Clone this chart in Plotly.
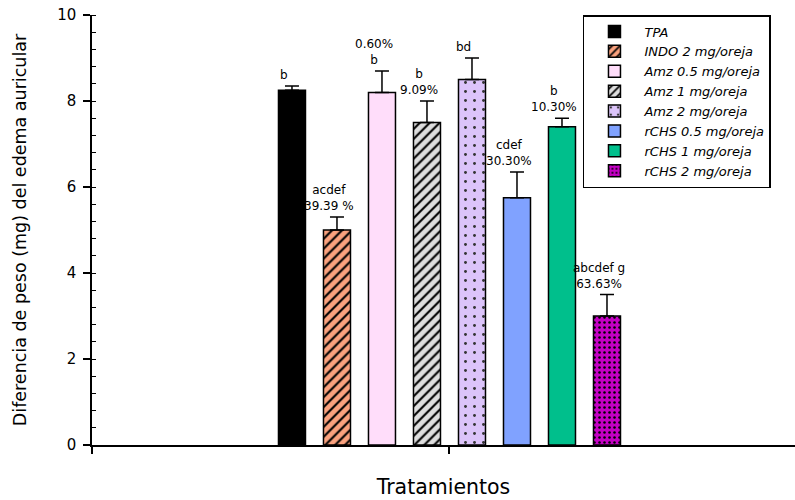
import plotly.graph_objects as go

# Treatment groups and mean ear-edema weight difference (mg) with SEM
treatments = [
    "TPA",
    "INDO 2 mg/oreja",
    "Amz 0.5 mg/oreja",
    "Amz 1 mg/oreja",
    "Amz 2 mg/oreja",
    "rCHS 0.5 mg/oreja",
    "rCHS 1 mg/oreja",
    "rCHS 2 mg/oreja",
]
weight_diff = [8.25, 5.0, 8.2, 7.5, 8.5, 5.75, 7.4, 3.0]
sem = [0.1, 0.3, 0.5, 0.5, 0.5, 0.6, 0.2, 0.5]

# Significance letters and % inhibition printed above each bar (top line first)
bar_labels = [
    ["b"],
    ["acdef", "39.39 %"],
    ["0.60%", "b"],
    ["b", "9.09%"],
    ["bd"],
    ["cdef", "30.30%"],
    ["b", "10.30%"],
    ["abcdef g", "63.63%"],
]

# Fill colour and hatch for each treatment
styles = [
    dict(color="#000000", shape="", fg="#000000", size=8, solidity=0.3),
    dict(color="#FBA27E", shape="/", fg="#000000", size=7, solidity=0.3),
    dict(color="#FFDDFA", shape="", fg="#000000", size=8, solidity=0.3),
    dict(color="#DEDEDE", shape="/", fg="#000000", size=7, solidity=0.3),
    dict(color="#DCC4FA", shape=".", fg="#333333", size=9, solidity=0.08),
    dict(color="#80A2FF", shape="", fg="#000000", size=8, solidity=0.3),
    dict(color="#00BF8C", shape="", fg="#000000", size=8, solidity=0.3),
    dict(color="#C400C4", shape=".", fg="#000000", size=5, solidity=0.2),
]

FONT = "DejaVu Sans"
n = len(treatments)
positions = [i - (n - 1) / 2 for i in range(n)]

fig = go.Figure()
for name, pos, val, err, st in zip(treatments, positions, weight_diff, sem, styles):
    fig.add_trace(go.Bar(
        name=name,
        x=[pos],
        y=[val],
        width=0.6,
        marker=dict(
            color=st["color"],
            line=dict(color="#000000", width=1.5),
            pattern=dict(shape=st["shape"], fgcolor=st["fg"], bgcolor=st["color"],
                         size=st["size"], solidity=st["solidity"], fillmode="replace"),
        ),
        error_y=dict(type="data", array=[err], arrayminus=[0], symmetric=False,
                     color="#000000", thickness=1.5, width=7),
    ))

for pos, val, err, lines in zip(positions, weight_diff, sem, bar_labels):
    fig.add_annotation(
        x=pos, y=val + err, xref="x", yref="y",
        text="<br>".join(lines), showarrow=False,
        xanchor="center", yanchor="bottom", xshift=-8, yshift=2,
        font=dict(family=FONT, size=12, color="#000000"),
    )

x_left, x_right = -7.944, 7.678

fig.update_layout(
    width=795, height=500,
    margin=dict(l=92, r=0, t=15, b=54.5),
    paper_bgcolor="white", plot_bgcolor="white",
    font=dict(family=FONT, color="#000000"),
    barmode="overlay",
    showlegend=True,
    legend=dict(
        x=0.6984, y=1, xanchor="left", yanchor="top",
        bgcolor="white", bordercolor="#000000", borderwidth=1.5,
        font=dict(family=FONT, size=13, style="italic", color="#000000"),
        itemwidth=50, tracegroupgap=0,
        entrywidth=160, entrywidthmode="pixels",
    ),
    xaxis=dict(
        range=[x_left, x_right], showgrid=False, zeroline=False,
        showline=True, linecolor="#000000", linewidth=1.5,
        tickmode="array", tickvals=[x_left, 0], showticklabels=False,
        ticks="outside", ticklen=7, tickwidth=1.5, tickcolor="#000000",
        title=dict(text="Tratamientos", font=dict(family=FONT, size=20.5), standoff=27),
        automargin=False,
    ),
    yaxis=dict(
        range=[0, 10], dtick=2, showgrid=False, zeroline=False,
        showline=True, linecolor="#000000", linewidth=1.5,
        ticks="outside", ticklen=7, tickwidth=1.5, tickcolor="#000000",
        ticklabelstandoff=4,
        tickfont=dict(family=FONT, size=15),
        minor=dict(dtick=0.4, ticks="inside", ticklen=4, tickwidth=1, tickcolor="#000000"),
        title=dict(text="Diferencia de peso (mg) del edema auricular",
                   font=dict(family=FONT, size=17.5), standoff=26),
        automargin=False,
    ),
)

fig.write_html("out.html")
